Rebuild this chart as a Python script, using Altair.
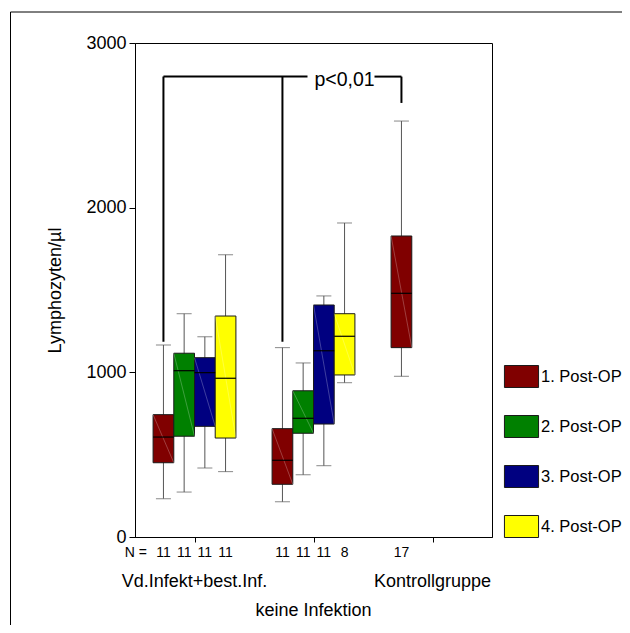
import altair as alt
import pandas as pd

# ---------------- data ----------------
groups = ["Vd.Infekt+best.Inf.", "keine Infektion", "Kontrollgruppe"]
series = ["1. Post-OP", "2. Post-OP", "3. Post-OP", "4. Post-OP"]
colors = ["#800000", "#008000", "#000080", "#ffff00"]

box_group = [0, 0, 0, 0, 1, 1, 1, 1, 2]
box_series = [0, 1, 2, 3, 0, 1, 2, 3, 0]
n_values = [11, 11, 11, 11, 11, 11, 11, 8, 17]
whisker_low = [233, 273, 419, 397, 214, 378, 433, 937, 976]
q1 = [451, 612, 672, 601, 320, 630, 686, 984, 1150]
median = [607, 1010, 998, 964, 466, 721, 1131, 1219, 1480]
q3 = [743, 1116, 1089, 1342, 658, 888, 1409, 1356, 1828]
whisker_high = [1166, 1356, 1216, 1714, 1150, 1057, 1464, 1907, 2526]

y_ticks = [0, 1000, 2000, 3000]
y_title = "Lymphozyten/µl"
n_row_label = "N ="

# significance bracket: boxes joined, lower ends of the legs, bracket level
sig_boxes = [0, 4, 8]
sig_leg_low = [1185, 1185, 2636]
sig_level = 2796
sig_text = "p<0,01"
sig_text_group = 1

# ---------------- layout constants ----------------
BOX_W = 0.174          # box width in group units
W, H = 357, 494
FONT = "Liberation Sans"
WHISKER = "#555555"

xc = [g + 0.5 + (s - 1.5) * BOX_W for g, s in zip(box_group, box_series)]
df = pd.DataFrame({
    "group": [groups[g] for g in box_group],
    "series": [series[s] for s in box_series],
    "xc": xc,
    "x_lo": [x - BOX_W / 2 for x in xc],
    "x_hi": [x + BOX_W / 2 for x in xc],
    "n": [str(v) for v in n_values],
    "lo": whisker_low, "q1": q1, "med": median, "q3": q3, "hi": whisker_high,
})

x_scale = alt.Scale(domain=[0, 3], nice=False, zero=False)
y_scale = alt.Scale(domain=[0, 3000], nice=False)
x_axis = alt.Axis(values=[0.5, 1.5, 2.5], labels=False, tickSize=5, grid=False,
                  domain=True, tickColor="black", domainColor="black")
y_axis = alt.Axis(values=y_ticks, format="d", tickSize=6, labelPadding=3,
                  grid=False, titlePadding=21, titleFontWeight="normal",
                  titleFontSize=18, titleFont=FONT, titleColor="black",
                  labelFont=FONT, labelFontSize=18, labelColor="black",
                  tickColor="black", domainColor="black")


def X(f):
    return alt.X(f, scale=x_scale, title=None)


def Y(f):
    return alt.Y(f, scale=y_scale, title=y_title)


base = alt.Chart(df)
one = pd.DataFrame({"a": [0]})

# outer figure frame (decoration, runs off the page at right and bottom)
frame_top = alt.Chart(one).mark_rule(color="black", strokeWidth=1).encode(
    x=alt.value(-124.5), x2=alt.value(W + 300), y=alt.value(-31))
frame_left = alt.Chart(one).mark_rule(color="black", strokeWidth=1).encode(
    x=alt.value(-124.5), y=alt.value(-31), y2=alt.value(H + 300))

whisk = base.mark_rule(color=WHISKER, strokeWidth=1).encode(
    x=alt.X("xc:Q", scale=x_scale, axis=x_axis, title=None),
    y=alt.Y("lo:Q", scale=y_scale, axis=y_axis, title=y_title),
    y2="hi:Q",
)
cap_lo = base.mark_tick(color=WHISKER, orient="horizontal", size=15, thickness=1).encode(
    x=X("xc:Q"), y=Y("lo:Q"))
cap_hi = base.mark_tick(color=WHISKER, orient="horizontal", size=15, thickness=1).encode(
    x=X("xc:Q"), y=Y("hi:Q"))

boxes = base.mark_rect(stroke="#1a1a1a", strokeWidth=1).encode(
    x=X("x_lo:Q"), x2="x_hi:Q",
    y=Y("q1:Q"), y2="q3:Q",
    fill=alt.Fill("series:N", scale=alt.Scale(domain=series, range=colors),
                  legend=alt.Legend(
                      orient="none", legendX=375, legendY=322, title=None,
                      symbolType="M-1.55,-1H1.55V1H-1.55Z", symbolSize=484,
                      symbolStrokeColor="#1a1a1a", symbolStrokeWidth=1,
                      labelFontSize=16.5, labelFont=FONT, labelColor="black",
                      labelOffset=8, rowPadding=23, padding=0, labelLimit=300)),
)
diag = base.mark_rule(color="white", strokeWidth=0.7, opacity=0.35).encode(
    x=X("x_lo:Q"), x2="x_hi:Q", y=Y("q3:Q"), y2="q1:Q")
med = base.mark_rule(color="black", strokeWidth=1.2).encode(
    x=X("x_lo:Q"), x2="x_hi:Q", y=Y("med:Q"))

# N row
n_text = base.mark_text(fontSize=14, font=FONT, baseline="alphabetic", color="black").encode(
    x=X("xc:Q"), y=alt.value(H + 20), text="n:N")
n_lab = alt.Chart(pd.DataFrame({"t": [n_row_label]})).mark_text(
    fontSize=14, font=FONT, align="right", dx=12, baseline="alphabetic", color="black"
).encode(x=alt.datum(0, scale=x_scale, title=None), y=alt.value(H + 20), text="t:N")

gdf = pd.DataFrame({"g": groups, "gx": [i + 0.5 for i in range(len(groups))],
                    "row": [i % 2 for i in range(len(groups))]})
g_row0 = alt.Chart(gdf).transform_filter(alt.datum.row == 0).mark_text(
    fontSize=18, font=FONT, baseline="alphabetic", color="black").encode(
    x=X("gx:Q"), y=alt.value(H + 50), text="g:N")
g_row1 = alt.Chart(gdf).transform_filter(alt.datum.row == 1).mark_text(
    fontSize=18, font=FONT, baseline="alphabetic", color="black").encode(
    x=X("gx:Q"), y=alt.value(H + 79), text="g:N")

# significance bracket
anchor = sig_text_group + 0.5
legs = alt.Chart(pd.DataFrame({
    "x": [xc[b] for b in sig_boxes], "ylo": sig_leg_low, "yhi": [sig_level] * 3,
})).mark_rule(color="black", strokeWidth=2).encode(
    x=X("x:Q"), y=Y("ylo:Q"), y2="yhi:Q")
seg_left = alt.Chart(pd.DataFrame({"x": [xc[sig_boxes[0]]], "x2": [anchor], "y": [sig_level]})
                     ).mark_rule(color="black", strokeWidth=2, x2Offset=-6).encode(
    x=X("x:Q"), x2="x2:Q", y=Y("y:Q"))
seg_right = alt.Chart(pd.DataFrame({"x": [anchor], "x2": [xc[sig_boxes[-1]]], "y": [sig_level]})
                      ).mark_rule(color="black", strokeWidth=2, xOffset=61).encode(
    x=X("x:Q"), x2="x2:Q", y=Y("y:Q"))
p_txt = alt.Chart(pd.DataFrame({"x": [anchor], "y": [sig_level], "t": [sig_text]})).mark_text(
    fontSize=19.5, font=FONT, align="left", baseline="middle", dx=1, dy=3, color="black").encode(
    x=X("x:Q"), y=Y("y:Q"), text="t:N")

chart = alt.layer(
    frame_top, frame_left, whisk, cap_lo, cap_hi, boxes, diag, med,
    legs, seg_left, seg_right, p_txt,
    n_text, n_lab, g_row0, g_row1,
).properties(
    width=W, height=H,
    autosize=alt.AutoSizeParams(type="none"),
    padding={"left": 127, "top": 35, "right": 130, "bottom": 88},
).configure_view(
    stroke="black", strokeWidth=1
)

chart.save("out.html", embed_options={"renderer": "svg", "actions": False})
